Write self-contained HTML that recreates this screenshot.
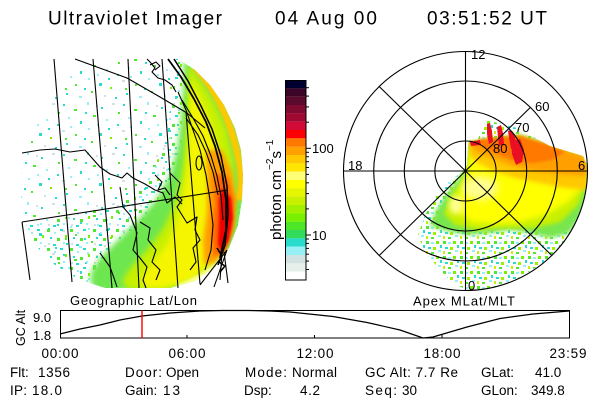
<!DOCTYPE html>
<html><head><meta charset="utf-8">
<style>html,body{margin:0;padding:0;background:#fff}svg{display:block}</style>
</head><body>
<svg width="600" height="400" viewBox="0 0 600 400" xmlns="http://www.w3.org/2000/svg" font-family="'Liberation Sans', sans-serif">
<defs>
  <filter id="b1" x="-20%" y="-20%" width="140%" height="140%"><feGaussianBlur stdDeviation="1.2"/></filter>
  <filter id="b2" x="-20%" y="-20%" width="140%" height="140%"><feGaussianBlur stdDeviation="2"/></filter>
  <filter id="b3" x="-20%" y="-20%" width="140%" height="140%"><feGaussianBlur stdDeviation="3"/></filter>
  <filter id="b4" x="-30%" y="-30%" width="160%" height="160%"><feGaussianBlur stdDeviation="4"/></filter>
  <pattern id="spA" width="60" height="50" patternUnits="userSpaceOnUse">
    <rect x="3" y="4" width="2" height="2" fill="#28dcc8"/>
    <rect x="14" y="9" width="3" height="2" fill="#50e632"/>
    <rect x="27" y="2" width="2" height="3" fill="#96f0f5"/>
    <rect x="41" y="7" width="2" height="2" fill="#28dcc8"/>
    <rect x="52" y="3" width="3" height="2" fill="#d2e1e1"/>
    <rect x="8" y="17" width="2" height="2" fill="#96f0f5"/>
    <rect x="20" y="21" width="2" height="3" fill="#28dcc8"/>
    <rect x="33" y="15" width="3" height="2" fill="#50e632"/>
    <rect x="46" y="19" width="2" height="2" fill="#96f0f5"/>
    <rect x="57" y="24" width="2" height="2" fill="#28dcc8"/>
    <rect x="2" y="30" width="3" height="2" fill="#d2e1e1"/>
    <rect x="15" y="34" width="2" height="2" fill="#50e632"/>
    <rect x="28" y="28" width="2" height="2" fill="#96f0f5"/>
    <rect x="39" y="33" width="3" height="3" fill="#28dcc8"/>
    <rect x="50" y="37" width="2" height="2" fill="#78f000"/>
    <rect x="6" y="43" width="2" height="2" fill="#28dcc8"/>
    <rect x="19" y="46" width="3" height="2" fill="#96f0f5"/>
    <rect x="31" y="41" width="2" height="2" fill="#50e632"/>
    <rect x="44" y="45" width="2" height="2" fill="#d2e1e1"/>
    <rect x="55" y="47" width="2" height="2" fill="#28dcc8"/>
    <rect x="10" y="26" width="2" height="2" fill="#96f0f5"/>
    <rect x="24" y="38" width="2" height="2" fill="#28dcc8"/>
    <rect x="36" y="5" width="2" height="2" fill="#d2e1e1"/>
    <rect x="48" y="28" width="2" height="2" fill="#28dcc8"/>
    <rect x="58" y="12" width="2" height="2" fill="#50e632"/>
    <rect x="25" y="12" width="2" height="2" fill="#28dcc8"/>
    <rect x="37" y="24" width="2" height="2" fill="#96f0f5"/>
    <rect x="5" y="38" width="2" height="2" fill="#50e632"/>
  </pattern>
  <pattern id="spB" width="23" height="19" patternUnits="userSpaceOnUse">
    <rect x="1" y="1" width="3" height="3" fill="#50e632"/>
    <rect x="8" y="4" width="2" height="2" fill="#96f0f5"/>
    <rect x="14" y="1" width="3" height="2" fill="#28dccd"/>
    <rect x="19" y="7" width="2" height="3" fill="#78f000"/>
    <rect x="4" y="9" width="2" height="2" fill="#28dccd"/>
    <rect x="11" y="10" width="3" height="3" fill="#50e632"/>
    <rect x="17" y="14" width="2" height="2" fill="#96f0f5"/>
    <rect x="2" y="15" width="2" height="2" fill="#d2e1e1"/>
    <rect x="7" y="16" width="3" height="2" fill="#28dccd"/>
  </pattern>
  <pattern id="spP" width="17" height="15" patternUnits="userSpaceOnUse">
    <rect x="1" y="1" width="3" height="3" fill="#50e632"/>
    <rect x="6" y="2" width="3" height="2" fill="#96f0f5"/>
    <rect x="11" y="1" width="3" height="3" fill="#78f000"/>
    <rect x="15" y="5" width="2" height="3" fill="#28dccd"/>
    <rect x="3" y="7" width="3" height="2" fill="#28dccd"/>
    <rect x="8" y="7" width="3" height="3" fill="#a0f000"/>
    <rect x="13" y="10" width="3" height="2" fill="#96f0f5"/>
    <rect x="1" y="11" width="2" height="3" fill="#c8f000"/>
    <rect x="6" y="12" width="3" height="2" fill="#50e632"/>
  </pattern>
  <clipPath id="disk"><path d="M92,59 L178,59 L195,70 L210,85 L224,105 L235,128 L241,150 L243,175 L242,200 L238,225 L229,248 L215,267 L195,281 L170,288 L105,288 L80,280 L55,265 L38,248 L26,228 L21,205 L21,180 L24,155 L32,130 L44,108 L58,88 L75,72 Z"/></clipPath>
  <clipPath id="pol"><ellipse cx="465.5" cy="171" rx="122" ry="119.5"/></clipPath>
  <clipPath id="preg"><polygon points="468,146 469,140 478,139 486,120 517,128 550,146 583,156 590,172 588,195 582,215 572,235 558,252 540,265 520,277 497,287 475,292 455,285 440,270 425,252 418,235 425,215 437,195 450,180 462,172 467,165"/></clipPath>
</defs>
<rect width="600" height="400" fill="#fff"/>

<!-- Title -->
<text x="48" y="24.5" font-size="19" textLength="174">Ultraviolet Imager</text>
<text x="275" y="24.5" font-size="19" textLength="102">04 Aug 00</text>
<text x="427" y="24.5" font-size="19" textLength="120">03:51:52 UT</text>

<!-- Left geographic image -->
<g clip-path="url(#disk)">
  <rect x="0" y="55" width="250" height="240" fill="url(#spA)"/>
  <polygon points="21,226 70,216 115,205 145,185 162,150 172,100 176,59 200,59 250,150 250,295 100,295 50,268 21,240" fill="url(#spB)"/>
  <polygon points="184,57 198,68 212,84 226,104 237,128 244,150 246,175 245,200 241,226 232,250 217,269 196,283 170,291 95,291 90,280 92,270 100,258 116,242 136,222 156,200 170,175 177,150 181,120 183,90 184,57" fill="#6ee650" filter="url(#b3)"/>
  <polygon points="188,64 203,84 216,106 227,131 233,160 235,190 233,222 225,248 210,268 190,282 160,290 128,290 122,281 132,266 148,249 163,229 174,206 181,180 185,150 187,120 188,90" fill="#c8f000" filter="url(#b3)"/>
  <polygon points="190,80 200,98 209,119 216,141 222,165 228,190 229,220 224,245 212,264 192,279 165,288 145,288 141,278 153,262 167,245 177,222 183,198 187,170 189,140 190,110" fill="#f5f500" filter="url(#b3)"/>
  <path d="M194,66 Q222,96 234,140 T238,200" fill="none" stroke="#ffc800" stroke-width="7" filter="url(#b1)"/>
  <path d="M178,287 Q210,276 226,254" fill="none" stroke="#ffff90" stroke-width="6" filter="url(#b1)"/>
  <polygon points="206,150 222,150 232,172 236,200 234,228 225,250 214,263 204,264 203,240 207,212 207,180" fill="#ffa000" filter="url(#b2)"/>
  <polygon points="214,172 228,178 234,200 232,230 223,252 214,257 212,232 215,205" fill="#ff6400" filter="url(#b2)"/>
  <polygon points="222,188 231,198 233,218 229,240 222,254 218,244 219,220 219,200" fill="#f00000" filter="url(#b1)"/>
</g>
<g fill="none" stroke="#000" stroke-width="1.1" stroke-linejoin="round">
  <line x1="22" y1="222" x2="30" y2="280"/>
  <line x1="54" y1="59" x2="72" y2="282"/>
  <line x1="93" y1="59" x2="112" y2="288"/>
  <line x1="128" y1="59" x2="139" y2="288"/>
  <line x1="162" y1="59" x2="178" y2="288"/>
  <line x1="186" y1="112" x2="200" y2="284"/>
  <polyline points="75,59 127,78 160,97 187,113 205,128"/>
  <line x1="22" y1="222" x2="228" y2="190"/>
  <polyline points="22,153 40,150 55,149 70,152 85,150 92,158 100,167 110,174 122,178 127,173 133,178 145,184 155,190 163,193 167,203 175,197 182,204"/>
  <polyline points="120,187 123,207 130,215 137,233 133,250 140,258 147,267 143,280 146,288"/>
  <polyline points="100,253 110,267 114,278 117,287"/>
  <polyline points="170,173 180,183 177,195 182,200 177,207 187,223 197,217 195,230 200,240 193,248 196,262 190,270"/>
  <polyline points="147,59 150,62 155,68 152,72 158,78 165,80 172,85 176,92"/>
  <polyline points="150,65 156,62 160,66 155,70"/>
  <polyline points="155,175 162,182 158,190 165,188 170,195"/>
  <polyline points="140,222 150,228 148,240 156,250 152,262 160,270 156,280"/>
  <ellipse cx="199" cy="163" rx="3" ry="7"/>
  <polyline stroke-width="1.8" points="168,59 181,77 194,99 206,122 215,146 222,172 226,200 226,230 220,258"/>
  <polyline stroke-width="1.5" points="174,59 188,81 201,106 212,129 221,156 227,186 228,215 225,245 218,265"/>
  <polyline points="182,100 193,118 203,136 211,156 217,176 221,196 223,220"/>
  <polyline points="186,118 198,135 206,152 213,172 218,195"/>
  <polyline points="178,92 186,110 193,130 200,150 206,175 210,200 213,225 211,250 205,270"/>
  <line x1="227" y1="250" x2="200" y2="285"/>
  <line x1="227" y1="250" x2="214" y2="287"/>
  <line x1="222" y1="253" x2="220" y2="280"/>
  <line x1="224" y1="252" x2="228" y2="283"/>
  <polyline stroke-width="1.6" points="217,248 222,256 219,262 225,266 220,272"/>
</g>

<!-- Colorbar -->
<g>
  <rect x="285" y="80" width="21" height="8.4" fill="#000030"/>
  <rect x="285" y="88.33" width="21" height="8.4" fill="#3c0528"/>
  <rect x="285" y="96.67" width="21" height="8.4" fill="#5a0a2d"/>
  <rect x="285" y="105" width="21" height="8.4" fill="#800a30"/>
  <rect x="285" y="113.33" width="21" height="8.4" fill="#a00a32"/>
  <rect x="285" y="121.67" width="21" height="8.4" fill="#d20a37"/>
  <rect x="285" y="130" width="21" height="8.4" fill="#ff0000"/>
  <rect x="285" y="138.33" width="21" height="8.4" fill="#ff7800"/>
  <rect x="285" y="146.67" width="21" height="8.4" fill="#ffa000"/>
  <rect x="285" y="155" width="21" height="8.4" fill="#ffc800"/>
  <rect x="285" y="163.33" width="21" height="8.4" fill="#ffe600"/>
  <rect x="285" y="171.67" width="21" height="8.4" fill="#ffff78"/>
  <rect x="285" y="180" width="21" height="8.4" fill="#ffff00"/>
  <rect x="285" y="188.33" width="21" height="8.4" fill="#e6f500"/>
  <rect x="285" y="196.67" width="21" height="8.4" fill="#c8f000"/>
  <rect x="285" y="205" width="21" height="8.4" fill="#a0f000"/>
  <rect x="285" y="213.33" width="21" height="8.4" fill="#78f000"/>
  <rect x="285" y="221.67" width="21" height="8.4" fill="#50e628"/>
  <rect x="285" y="230" width="21" height="8.4" fill="#32dc5a"/>
  <rect x="285" y="238.33" width="21" height="8.4" fill="#28dccd"/>
  <rect x="285" y="246.67" width="21" height="8.4" fill="#96f0f5"/>
  <rect x="285" y="255" width="21" height="8.4" fill="#d2e1e1"/>
  <rect x="285" y="263.33" width="21" height="8.4" fill="#e6f0eb"/>
  <rect x="285" y="271.67" width="21" height="8.33" fill="#ffffff"/>
  <rect x="285.5" y="80.5" width="20.5" height="199.5" fill="none" stroke="#000" stroke-width="1"/>
  <g stroke="#000" stroke-width="1">
    <line x1="306" y1="269.5" x2="309" y2="269.5"/><line x1="306" y1="261.1" x2="309" y2="261.1"/>
    <line x1="306" y1="254.2" x2="309" y2="254.2"/><line x1="306" y1="248.4" x2="309" y2="248.4"/>
    <line x1="306" y1="243.4" x2="309" y2="243.4"/><line x1="306" y1="239" x2="309" y2="239"/>
    <line x1="306" y1="235" x2="311" y2="235"/>
    <line x1="306" y1="208.9" x2="309" y2="208.9"/><line x1="306" y1="193.6" x2="309" y2="193.6"/>
    <line x1="306" y1="182.8" x2="309" y2="182.8"/><line x1="306" y1="174.4" x2="309" y2="174.4"/>
    <line x1="306" y1="167.5" x2="309" y2="167.5"/><line x1="306" y1="161.7" x2="309" y2="161.7"/>
    <line x1="306" y1="156.7" x2="309" y2="156.7"/><line x1="306" y1="152.3" x2="309" y2="152.3"/>
    <line x1="306" y1="148.3" x2="311" y2="148.3"/>
    <line x1="306" y1="122.2" x2="309" y2="122.2"/><line x1="306" y1="106.9" x2="309" y2="106.9"/>
    <line x1="306" y1="96.1" x2="309" y2="96.1"/><line x1="306" y1="87.7" x2="309" y2="87.7"/>
  </g>
  <text x="312" y="153" font-size="13">100</text>
  <text x="312" y="240" font-size="13">10</text>
  <text transform="translate(281,240) rotate(-90)" font-size="15">photon cm<tspan font-size="10" dy="-8">−2</tspan><tspan font-size="15" dy="8">s</tspan><tspan font-size="10" dy="-8">−1</tspan></text>
</g>

<!-- Polar plot -->
<g clip-path="url(#pol)">
  <g clip-path="url(#preg)">
    <rect x="410" y="120" width="190" height="180" fill="url(#spP)"/>
    <polygon points="468,142 520,135 583,155 589,172 587,200 580,218 568,234 550,238 530,233 510,230 490,233 470,235 450,232 430,226 436,210 448,192 460,176 466,160" fill="#78e650" filter="url(#b2)"/>
    <polygon points="469,145 583,157 587,180 578,205 560,222 535,228 505,228 478,230 455,225 444,214 450,197 462,180 467,165" fill="#c8f000" filter="url(#b2)"/>
    <polygon points="470,150 583,162 584,185 568,202 545,215 520,222 495,224 472,222 458,212 458,198 465,183" fill="#ffff00" filter="url(#b3)"/>
    <ellipse cx="480" cy="188" rx="18" ry="12" fill="#ffff90" filter="url(#b4)"/>
    <ellipse cx="456" cy="205" rx="7" ry="9" fill="#ffff90" filter="url(#b3)"/>
    <polygon points="469,142 520,136 583,156 588,172 587,190 565,188 540,183 515,178 492,170 476,162 469,155" fill="#ffc800" filter="url(#b2)"/>
    <polygon points="469,142 520,136 583,156 587,168 585,176 560,174 535,171 512,166 492,158 476,152" fill="#ffa000" filter="url(#b2)"/>
    <polygon points="478,140 518,136 548,145 565,152 552,160 533,163 515,161 497,154 482,147" fill="#ff7800" filter="url(#b1)"/>
  </g>
  <g fill="#ea0f23">
    <polygon points="487,124 490,123 492,131 493,142 489,144 487,134"/>
    <polygon points="497,127 501,125 503,133 504,144 499,146 498,137"/>
    <polygon points="508,131 511,130 515,137 516,147 511,149"/>
    <polygon points="511,141 520,139 524,150 522,162 516,165 512,154"/>
    <polygon points="470,142 480,140 481,145 471,146"/>
  </g>
</g>
<g fill="none" stroke="#000" stroke-width="1.1">
  <ellipse cx="465.5" cy="171" rx="122" ry="119.5"/>
  <ellipse cx="465.5" cy="171" rx="91.8" ry="90"/>
  <ellipse cx="465.5" cy="171" rx="61.2" ry="60"/>
  <ellipse cx="465.5" cy="171" rx="30.6" ry="30"/>
  <line x1="343.5" y1="171" x2="587.5" y2="171"/>
  <line x1="465.5" y1="51.5" x2="465.5" y2="290.5"/>
  <line x1="379.2" y1="86.5" x2="551.8" y2="255.5"/>
  <line x1="379.2" y1="255.5" x2="530.4" y2="107.4"/>
</g>
<g font-size="13">
  <text x="471" y="59">12</text>
  <text x="348" y="170">18</text>
  <text x="578" y="170">6</text>
  <text x="468" y="290">0</text>
  <text x="535" y="111">60</text>
  <text x="515" y="132">70</text>
  <text x="493" y="153">80</text>
</g>

<!-- Bottom panel -->
<text x="70" y="305" font-size="13" textLength="127">Geographic Lat/Lon</text>
<text x="413" y="305.5" font-size="13" textLength="102">Apex MLat/MLT</text>

<rect x="60.5" y="310.5" width="509" height="27.5" fill="none" stroke="#000" stroke-width="1"/>
<g stroke="#000" stroke-width="1">
  <line x1="187" y1="338" x2="187" y2="335"/>
  <line x1="314.5" y1="338" x2="314.5" y2="335"/>
  <line x1="442" y1="338" x2="442" y2="335"/>
</g>
<polyline fill="none" stroke="#000" stroke-width="1.2" points="60,334 80,329 100,325 120,320 142,316 170,313 200,311 222,310.5 248,310.5 270,311 290,312 333,316.5 367,322.5 400,330 423,338 433,337 467,327 500,318.5 533,314 569,311"/>
<line x1="142" y1="310.5" x2="142" y2="338" stroke="#ff0000" stroke-width="1.4"/>

<text transform="translate(25,346) rotate(-90)" font-size="12.5">GC Alt</text>
<text x="33" y="322" font-size="13">9.0</text>
<text x="33" y="340" font-size="13">1.8</text>

<g font-size="13.5" text-anchor="middle">
  <text x="60" y="358" textLength="37">00:00</text>
  <text x="187" y="358" textLength="37">06:00</text>
  <text x="315" y="358" textLength="37">12:00</text>
  <text x="442" y="358" textLength="37">18:00</text>
  <text x="568" y="358" textLength="37">23:59</text>
</g>

<g font-size="13.5">
  <text x="10" y="377">Flt:</text>
  <text x="38" y="377" textLength="32">1356</text>
  <text x="10" y="395" textLength="17">IP:</text>
  <text x="32" y="395" textLength="30">18.0</text>

  <text x="125" y="377" textLength="37">Door:</text>
  <text x="166" y="377">Open</text>
  <text x="125" y="395">Gain:</text>
  <text x="163" y="395" textLength="17">13</text>

  <text x="245" y="377" textLength="42">Mode:</text>
  <text x="292" y="377" textLength="45">Normal</text>
  <text x="244" y="395">Dsp:</text>
  <text x="300" y="395" textLength="20">4.2</text>

  <text x="365" y="377" textLength="93">GC Alt: 7.7 Re</text>
  <text x="365" y="395" textLength="32">Seq:</text>
  <text x="402" y="395" textLength="15">30</text>

  <text x="481" y="377">GLat:</text>
  <text x="535" y="377">41.0</text>
  <text x="481" y="395">GLon:</text>
  <text x="531" y="395">349.8</text>
</g>
</svg>
</body></html>
